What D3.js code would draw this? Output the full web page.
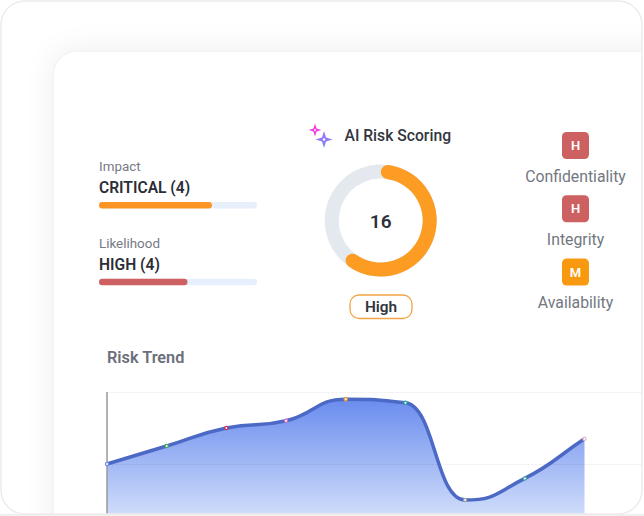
<!DOCTYPE html>
<html>
<head>
<meta charset="utf-8">
<script src="https://cdn.jsdelivr.net/npm/d3@7"></script>
<style>
  html, body { margin: 0; padding: 0; background: #fff; }
  svg { display: block; font-family: Roboto, sans-serif; }
</style>
</head>
<body>
<div id="chart"></div>
<script>
// Risk trend
const trendSteps = [0, 1, 2, 3, 4, 5, 6, 7, 8];
const trendScores = [15, 16.25, 17.5, 18, 19.5, 19.25, 12.5, 14, 16.75];
const trendDotColors = ["#6f8fe8", "#3fae5a", "#d8274f", "#d46cc8", "#f0952a", "#25a69a", "#9e9e9e", "#45a8a0", "#eeb4c4"];
const trendTicks = [10, 15, 20];

// Gauge
const riskScore = 16;
const riskShare = 0.62;
const riskLabel = "High";

// Left bars
const factorNames = ["Impact", "Likelihood"];
const factorLevels = ["CRITICAL (4)", "HIGH (4)"];
const factorShares = [0.715, 0.56];
const factorColors = ["#fd9426", "#cd6060"];

// Right badges
const ciaNames = ["Confidentiality", "Integrity", "Availability"];
const ciaLetters = ["H", "H", "M"];
const ciaColors = ["#cd6060", "#cd6060", "#f8990f"];

const width = 644;
const height = 516;

// Monotone curve with limited central tangents and long handles, the d3
// monotone curves come out too stiff in the steep drop
function softMonotone(context) {
  let xs, ys, lineIndex = 0;
  return {
    areaStart() { lineIndex = 0; },
    areaEnd() { context.closePath(); },
    lineStart() { xs = []; ys = []; },
    point(px, py) { xs.push(+px); ys.push(+py); },
    lineEnd() {
      const n = xs.length;
      const chord = d3.range(n - 1).map((i) => (ys[i + 1] - ys[i]) / (xs[i + 1] - xs[i]));
      const tangent = xs.map((d, i) => {
        if (i === 0) return chord[0];
        if (i === n - 1) return chord[n - 2];
        const a = chord[i - 1];
        const b = chord[i];
        if (a * b <= 0) return 0;
        return Math.sign(a) * Math.min(Math.abs(a + b) / 2, 2 * Math.min(Math.abs(a), Math.abs(b)));
      });
      // Second line of an area continues from the first one
      if (lineIndex++ > 0) context.lineTo(xs[0], ys[0]);
      else context.moveTo(xs[0], ys[0]);
      for (let i = 0; i < n - 1; i++) {
        const h = (xs[i + 1] - xs[i]) * 0.5;
        context.bezierCurveTo(
          xs[i] + h, ys[i] + h * tangent[i],
          xs[i + 1] - h, ys[i + 1] - h * tangent[i + 1],
          xs[i + 1], ys[i + 1],
        );
      }
    },
  };
}

const svg = d3.select("#chart").append("svg")
  .attr("width", width)
  .attr("height", height);

const defs = svg.append("defs");

defs.append("clipPath").attr("id", "outer-clip")
  .append("rect")
  .attr("x", 1).attr("y", 1)
  .attr("width", 641).attr("height", 513)
  .attr("rx", 24);

const areaGradient = defs.append("linearGradient")
  .attr("id", "area-fill")
  .attr("x1", 0).attr("x2", 0).attr("y1", 0).attr("y2", 1);
areaGradient.append("stop").attr("offset", "0%").attr("stop-color", "#6a8cee");
areaGradient.append("stop").attr("offset", "100%").attr("stop-color", "#e2ebfc");

const sparkleGradient = defs.append("linearGradient")
  .attr("id", "sparkle-fill")
  .attr("x1", 0).attr("x2", 0).attr("y1", 0).attr("y2", 1);
sparkleGradient.append("stop").attr("offset", "0%").attr("stop-color", "#b56cf0");
sparkleGradient.append("stop").attr("offset", "100%").attr("stop-color", "#6f8cf8");

const shadow = defs.append("filter").attr("id", "card-shadow")
  .attr("x", "-10%").attr("y", "-10%").attr("width", "120%").attr("height", "120%");
shadow.append("feDropShadow")
  .attr("dx", 0).attr("dy", 0)
  .attr("stdDeviation", 14)
  .attr("flood-color", "#000")
  .attr("flood-opacity", 0.07);

// Strip under the outer card
svg.append("rect")
  .attr("x", 0).attr("y", 514)
  .attr("width", width).attr("height", 2)
  .attr("fill", "#f0f0f0");

const clipped = svg.append("g").attr("clip-path", "url(#outer-clip)");

clipped.append("rect")
  .attr("x", 1).attr("y", 1)
  .attr("width", 641).attr("height", 513)
  .attr("fill", "#fff");

// Inner card runs off the right and bottom edges
clipped.append("rect")
  .attr("x", 53).attr("y", 51)
  .attr("width", 640).attr("height", 520)
  .attr("rx", 24)
  .attr("fill", "#fff")
  .attr("stroke", "#ececec")
  .attr("filter", "url(#card-shadow)");

// Risk trend chart
const x = d3.scaleLinear()
  .domain(d3.extent(trendSteps))
  .range([107, 584.5]);

const y = d3.scaleLinear()
  .domain(d3.extent(trendTicks))
  .range([536, 392]);

const area = d3.area()
  .curve(softMonotone)
  .x((d, i) => x(trendSteps[i]))
  .y0(y(10))
  .y1((d) => y(d));

const line = d3.line()
  .curve(softMonotone)
  .x((d, i) => x(trendSteps[i]))
  .y((d) => y(d));

clipped.append("path")
  .datum(trendScores)
  .attr("fill", "url(#area-fill)")
  .attr("d", area);

const grid = clipped.append("g")
  .attr("class", "grid")
  .attr("transform", "translate(107,0)")
  .call(d3.axisLeft(y).tickValues(trendTicks).tickSize(-535).tickFormat(""));
grid.select(".domain").remove();
grid.selectAll("line")
  .attr("stroke", "#000")
  .attr("stroke-opacity", 0.06)
  .attr("stroke-dasharray", "3 1");

clipped.append("line")
  .attr("x1", 107).attr("x2", 107)
  .attr("y1", y(20)).attr("y2", y(10))
  .attr("stroke", "#999")
  .attr("stroke-width", 1.5);

clipped.append("path")
  .datum(trendScores)
  .attr("fill", "none")
  .attr("stroke", "#4c69c6")
  .attr("stroke-width", 3.5)
  .attr("d", line);

clipped.append("g")
  .selectAll("circle")
  .data(trendScores)
  .join("circle")
  .attr("cx", (d, i) => x(trendSteps[i]))
  .attr("cy", (d) => y(d))
  .attr("r", 1.6)
  .attr("fill", "#fff")
  .attr("stroke", (d, i) => trendDotColors[i])
  .attr("stroke-width", 1.2);

clipped.append("text")
  .attr("x", 107).attr("y", 363)
  .attr("font-size", 16.3)
  .attr("font-weight", 600)
  .attr("fill", "#6b6f7b")
  .text("Risk Trend");

// Impact and likelihood bars
const barScale = d3.scaleLinear().domain([0, 1]).range([0, 158]);

const factors = clipped.append("g")
  .selectAll("g")
  .data(factorNames)
  .join("g")
  .attr("transform", (d, i) => `translate(99,${171 + i * 76.7})`);

factors.append("text")
  .attr("y", 0)
  .attr("font-size", 13.4)
  .attr("fill", "#767a85")
  .text((d) => d);

factors.append("text")
  .attr("y", 22)
  .attr("font-size", 15.6)
  .attr("font-weight", 600)
  .attr("fill", "#2b2e36")
  .text((d, i) => factorLevels[i]);

factors.append("rect")
  .attr("y", 31)
  .attr("width", barScale(1))
  .attr("height", 6.5)
  .attr("rx", 3.25)
  .attr("fill", "#e8effc");

factors.append("rect")
  .attr("y", 31)
  .attr("width", (d, i) => barScale(factorShares[i]))
  .attr("height", 6.5)
  .attr("rx", 3.25)
  .attr("fill", (d, i) => factorColors[i]);

// Gauge
const gauge = clipped.append("g").attr("transform", "translate(380.7,220.5)");
const gaugeArc = d3.arc().innerRadius(42).outerRadius(56);

gauge.append("path")
  .attr("fill", "#e4e9f0")
  .attr("d", gaugeArc({ startAngle: 0, endAngle: 2 * Math.PI }));

gauge.append("path")
  .attr("fill", "#fd9c22")
  .attr("d", gaugeArc.cornerRadius(7)({ startAngle: 0, endAngle: riskShare * 2 * Math.PI }));

gauge.append("text")
  .attr("text-anchor", "middle")
  .attr("y", 7.5)
  .attr("font-size", 19)
  .attr("font-weight", 600)
  .attr("fill", "#2f323a")
  .text(riskScore);

// Heading with sparkles
clipped.append("text")
  .attr("x", 344.5).attr("y", 141)
  .attr("font-size", 15.7)
  .attr("font-weight", 500)
  .attr("fill", "#33363e")
  .text("AI Risk Scoring");

const sparkle = (cx, cy, r, fill) => {
  const k = r * 0.24;
  const p = [
    [cx, cy - r], [cx + k, cy - k], [cx + r, cy], [cx + k, cy + k],
    [cx, cy + r], [cx - k, cy + k], [cx - r, cy], [cx - k, cy - k],
  ];
  clipped.append("path")
    .attr("d", d3.line()(p) + "Z")
    .attr("fill", fill);
  clipped.append("circle")
    .attr("cx", cx).attr("cy", cy)
    .attr("r", r * 0.14)
    .attr("fill", "#fff");
};
sparkle(315, 130, 6.5, "#f03fe0");
sparkle(324, 139.5, 8.5, "url(#sparkle-fill)");

// Level pill
clipped.append("rect")
  .attr("x", 350).attr("y", 295)
  .attr("width", 62).attr("height", 23.5)
  .attr("rx", 9)
  .attr("fill", "#fff")
  .attr("stroke", "#f3a444")
  .attr("stroke-width", 1.3);

clipped.append("text")
  .attr("x", 381).attr("y", 312)
  .attr("text-anchor", "middle")
  .attr("font-size", 15.4)
  .attr("font-weight", 600)
  .attr("fill", "#33363e")
  .text(riskLabel);

// Confidentiality, integrity, availability
const cia = clipped.append("g")
  .selectAll("g")
  .data(ciaNames)
  .join("g")
  .attr("transform", (d, i) => `translate(575.5,${132 + i * 63.3})`);

cia.append("rect")
  .attr("x", -13.5)
  .attr("width", 27)
  .attr("height", 27)
  .attr("rx", 4.5)
  .attr("fill", (d, i) => ciaColors[i]);

cia.append("text")
  .attr("y", 18)
  .attr("text-anchor", "middle")
  .attr("font-size", 13)
  .attr("font-weight", 600)
  .attr("fill", "#fff")
  .text((d, i) => ciaLetters[i]);

cia.append("text")
  .attr("y", 49.5)
  .attr("text-anchor", "middle")
  .attr("font-size", 15.8)
  .attr("fill", "#73777f")
  .text((d) => d);

// Outer card edge
svg.append("rect")
  .attr("x", 1).attr("y", 1)
  .attr("width", 641).attr("height", 513)
  .attr("rx", 24)
  .attr("fill", "none")
  .attr("stroke", "#ececec")
  .attr("stroke-width", 1.5);
</script>
</body>
</html>
